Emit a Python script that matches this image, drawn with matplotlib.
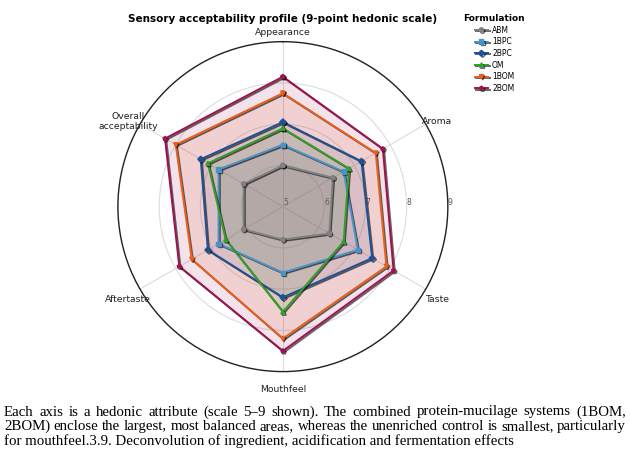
import numpy as np
import matplotlib
matplotlib.use("Agg")
import matplotlib.pyplot as plt
import matplotlib.patheffects as pe
from matplotlib.transforms import ScaledTranslation

categories = ["Appearance", "Aroma", "Taste", "Mouthfeel", "Aftertaste", "Overall\nacceptability"]
series_names = ["ABM", "1BPC", "2BPC", "OM", "1BOM", "2BOM"]
abm = [6.0, 6.4, 6.3, 5.8, 6.1, 6.1]
bpc1 = [6.5, 6.7, 7.1, 6.6, 6.8, 6.8]
bpc2 = [7.05, 7.2, 7.5, 7.2, 7.1, 7.3]
om = [6.9, 6.85, 6.7, 7.55, 6.6, 7.1]
bom1 = [7.75, 7.6, 7.9, 8.2, 7.55, 8.0]
bom2 = [8.15, 7.8, 8.1, 8.5, 7.9, 8.3]
series_values = [abm, bpc1, bpc2, om, bom1, bom2]
r_ticks = [5, 6, 7, 8, 9]
r_tick_labels = ["5", "6", "7", "8", "9"]

colors = ["#808080", "#4a93c9", "#1f5294", "#33a02c", "#e8601c", "#9e1450"]
markers = ["o", "s", "D", "^", "v", "p"]

W, H = 630, 468
fig = plt.figure(figsize=(W / 100, H / 100), dpi=100)
ax = fig.add_axes([0.187, 0.206, 0.524, 0.705], projection="polar")
ax.set_theta_offset(np.pi / 2)
ax.set_theta_direction(-1)

n = len(categories)
angles = np.linspace(0, 2 * np.pi, n, endpoint=False)
ang_closed = np.concatenate([angles, angles[:1]])

for name, vals, c, m in zip(series_names, series_values, colors, markers):
    v = np.concatenate([vals, vals[:1]])
    ax.plot(ang_closed, v, color=c, lw=1.4, marker=m, markersize=3.0, label=name,
            path_effects=[pe.SimpleLineShadow(offset=(0.9, -0.9), shadow_color="k", alpha=0.6),
                          pe.Normal()], zorder=3)
    ax.fill(ang_closed, v, color=c, alpha=0.12, zorder=2)

ax.set_ylim(5, 9)
ax.set_yticks(r_ticks)
ax.set_yticklabels(r_tick_labels, fontsize=5.5, color="#555555")
ax.set_rlabel_position(90)
ax.set_xticks(angles)
ax.set_xticklabels([])
ax.grid(color="#dcdcdc", lw=0.8)
ax.spines["polar"].set_color("#222222")
ax.spines["polar"].set_linewidth(1.0)
ax.set_facecolor("white")

# category labels just outside the outer ring (pad outward, slight downward shift), in pixels
pad_px, shift_px = 13.5, 4.0
for a, lab in zip(angles, categories):
    dx = pad_px * np.sin(a) / 100.0
    dy = (pad_px * np.cos(a) - shift_px) / 100.0
    tr = ax.transData + ScaledTranslation(dx, dy, fig.dpi_scale_trans)
    ax.text(a, 9, lab, transform=tr, ha="center", va="center", fontsize=6.7,
            color="#222222", clip_on=False, linespacing=1.1)

fig.text(0.449, 0.96, "Sensory acceptability profile (9-point hedonic scale)",
         ha="center", va="center", fontsize=7.5, fontweight="bold")

leg = fig.legend(loc="upper left", bbox_to_anchor=(0.725, 0.985), frameon=False,
                 title="Formulation", fontsize=5.5, title_fontsize=6.5,
                 handlelength=1.8, labelspacing=0.35, handletextpad=0.5)
leg.get_title().set_fontweight("bold")

caption_lines = [
    "Each axis is a hedonic attribute (scale 5\u20139 shown). The combined protein-mucilage systems (1BOM,",
    "2BOM) enclose the largest, most balanced areas, whereas the unenriched control is smallest, particularly",
    "for mouthfeel.3.9. Deconvolution of ingredient, acidification and fermentation effects",
]
line_y = [412, 426.5, 441]
x_left, x_right = 4, 626
fs = 10.7
renderer = fig.canvas.get_renderer()
for i, (line, yy) in enumerate(zip(caption_lines, line_y)):
    yf = 1 - yy / H
    if i < len(caption_lines) - 1:
        words = line.split(" ")
        texts = [fig.text(0, yf, w, fontsize=fs, family="Liberation Serif", va="center", ha="left")
                 for w in words]
        widths = [t.get_window_extent(renderer).width for t in texts]
        gap = ((x_right - x_left) - sum(widths)) / (len(words) - 1)
        x = x_left
        for t, w in zip(texts, widths):
            t.set_x(x / W)
            x += w + gap
    else:
        fig.text(x_left / W, yf, line, fontsize=fs, family="Liberation Serif", va="center", ha="left")

fig.savefig("out.png", dpi=100)
